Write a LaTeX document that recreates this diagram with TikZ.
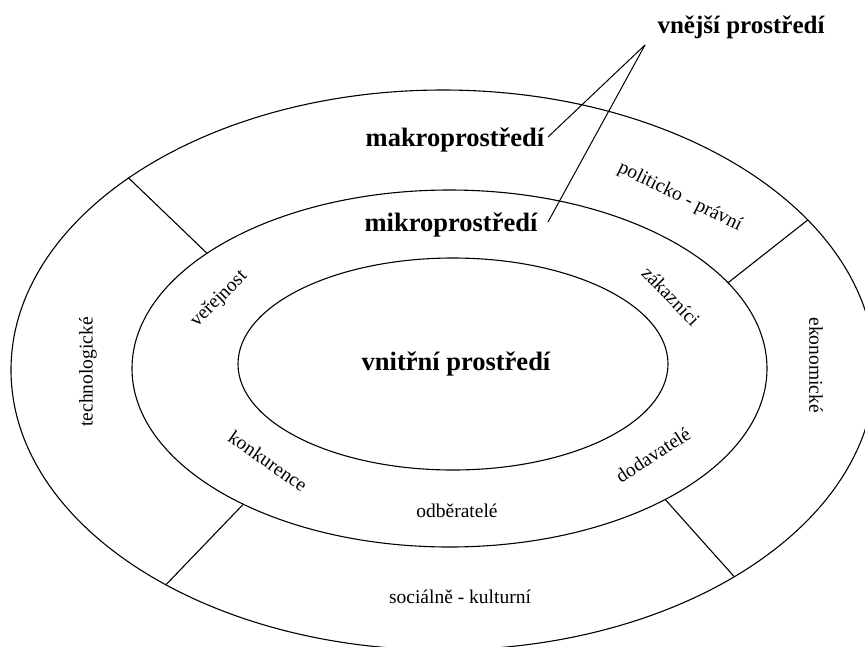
\documentclass[tikz,border=0pt]{standalone}
\usepackage{fontspec}
\setmainfont{Liberation Serif}
\usetikzlibrary{positioning}

\begin{document}
\begin{tikzpicture}[
        x=1pt, y=-1pt,
        ring/.style={draw, line width=1.1pt},
        divider/.style={line width=1.1pt},
        leader/.style={line width=1pt},
        title/.style={font=\fontsize{26.5}{30}\selectfont\bfseries, inner sep=1pt},
        label/.style={font=\fontsize{19.5}{22}\selectfont, inner sep=1pt}
    ]
        \useasboundingbox (0,0) rectangle (865,646);

        % the three environments
        \coordinate (oc) at (443,370);
        \coordinate (mc) at (449.5,368.5);
        \coordinate (ic) at (453,364);
        \draw[ring] (oc) ellipse [x radius=432, y radius=280];
        \draw[ring] (mc) ellipse [x radius=317.5, y radius=178.5];
        \draw[ring] (ic) ellipse [x radius=215, y radius=106];

        % dividers of the outer ring
        \coordinate (o1) at ([shift={(223.3:432 and 280)}]oc);
        \coordinate (o2) at ([shift={(327.6:432 and 280)}]oc);
        \coordinate (o3) at ([shift={(47.6:432 and 280)}]oc);
        \coordinate (o4) at ([shift={(129.9:432 and 280)}]oc);
        \coordinate (m1) at ([shift={(220.2:317.5 and 178.5)}]mc);
        \coordinate (m2) at ([shift={(331.3:317.5 and 178.5)}]mc);
        \coordinate (m3) at ([shift={(47.2:317.5 and 178.5)}]mc);
        \coordinate (m4) at ([shift={(130.5:317.5 and 178.5)}]mc);
        \draw[divider] (m1) -- (o1);
        \draw[divider] (m2) -- (o2);
        \draw[divider] (m3) -- (o3);
        \draw[divider] (m4) -- (o4);

        % headings
        \node[title, font=\fontsize{25}{30}\selectfont\bfseries] (vnejsi) at (741,27) {vnější prostředí};
        \node[title] (makro) at (455,140) {makroprostředí};
        \node[title] (mikro) at (451,225) {mikroprostředí};
        \node[title] (vnitrni) at (456,364) {vnitřní prostředí};

        \coordinate (apex) at (645,45);
        \coordinate (makroEnd) at (548,137);
        \coordinate (mikroEnd) at (548,222);
        \draw[leader] (apex) -- (makroEnd);
        \draw[leader] (apex) -- (mikroEnd);

        % macro factors
        \node[label, rotate=90] (tech) at (88,372) {technologické};
        \node[label, rotate=-26] (polit) at (680,197) {politicko - právní};
        \node[label, rotate=-90] (ekon) at (816,365) {ekonomické};
        \node[label] (social) at (460,597) {sociálně - kulturní};

        % micro factors
        \node[label, rotate=45] (verej) at (219,299) {veřejnost};
        \node[label, rotate=-46] (zakaz) at (671,296) {zákazníci};
        \node[label, rotate=-35] (konk) at (268,461) {konkurence};
        \node[label, rotate=33] (dodav) at (653,455) {dodavatelé};
        \node[label] (odber) at (457,511) {odběratelé};
    \end{tikzpicture}
\end{document}
